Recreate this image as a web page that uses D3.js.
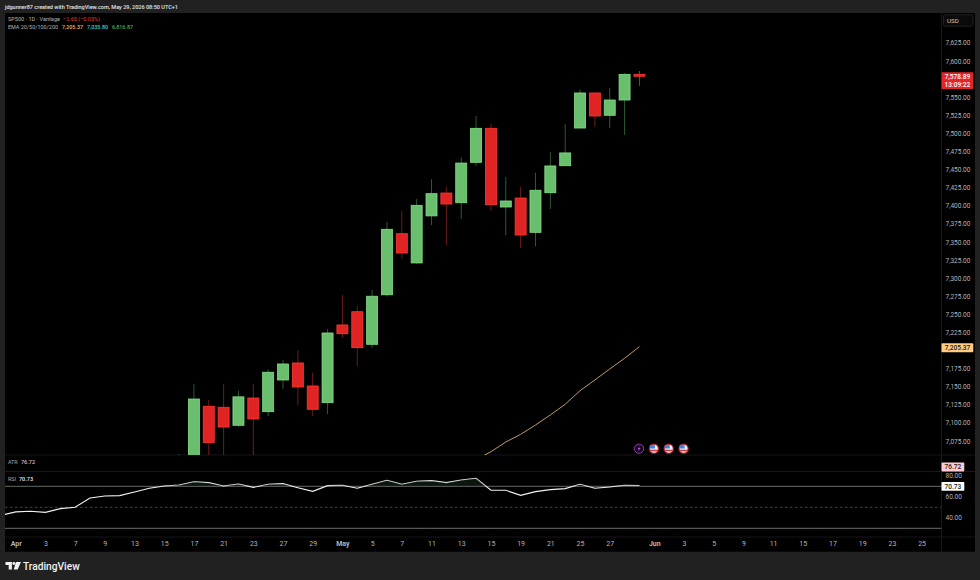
<!DOCTYPE html>
<html>
<head>
<meta charset="utf-8">
<title>SP500 daily</title>
<script src="https://cdn.jsdelivr.net/npm/d3@7/dist/d3.min.js"></script>
<style>
  html, body { margin: 0; padding: 0; background: #212121; }
  svg { display: block; }
  text { font-family: Roboto, "Open Sans", sans-serif; }
</style>
</head>
<body>
<svg id="chart" width="980" height="580"></svg>
<script>
// Session index of the first candle on the chart
const firstIndex = 11;
const opens  = [7000, 7035, 7123, 7121.6, 7096.7, 7134.4, 7115.5, 7159.3, 7182.8, 7151, 7128, 7235.3, 7253.6, 7208.6, 7277, 7361.4, 7321, 7386, 7417.6, 7404.2, 7460, 7507, 7398.3, 7410.7, 7363.3, 7418, 7455.3, 7507.4, 7555.8, 7525, 7546.1, 7581.54];
const highs  = [7057, 7153.7, 7131.6, 7153.7, 7144.5, 7153.7, 7174, 7187, 7200.7, 7169.4, 7229.7, 7276.7, 7261.5, 7283.6, 7377.6, 7392.3, 7409.3, 7436.6, 7426.3, 7467, 7524, 7513, 7439.7, 7426.3, 7445.7, 7474.3, 7512.5, 7561, 7556.8, 7562.7, 7583, 7586.2];
const lows   = [6990, 7021, 7049, 7046, 7095, 7046, 7109.5, 7147.3, 7124.7, 7109.5, 7112.3, 7217.7, 7178.6, 7203.5, 7274.4, 7327, 7320, 7373.4, 7345.8, 7381.7, 7455, 7393.2, 7359.6, 7341.6, 7344, 7395.5, 7455, 7507, 7508.8, 7507.4, 7497.8, 7565.5];
const closes = [7040, 7133, 7073, 7094.3, 7136, 7105.4, 7170, 7181.4, 7149.6, 7118.8, 7224.2, 7223.2, 7204, 7275, 7367.5, 7334.7, 7400.6, 7416.7, 7402.4, 7459, 7507, 7401.5, 7406.6, 7359.6, 7421.4, 7455, 7473, 7555.8, 7524, 7546.1, 7581.54, 7578.89];

// EMA 20, visible only near the end of the range
const emaStart = 30;
const emaValues = [7035, 7049.4, 7060.2, 7073.6, 7084.2, 7097.1, 7111, 7125.7, 7144.5, 7159.3, 7174.5, 7189.3, 7205.37];

// RSI, one value per session, starting one session before the first tick
const rsiStart = -1;
const rsiValues = [42.4, 45.6, 46.2, 45.2, 48.7, 50, 58.9, 60.8, 61.1, 64.6, 68.1, 70.3, 71.3, 74.4, 73.5, 70.3, 72.2, 69, 71.9, 72.5, 68.7, 65.2, 70.6, 71, 68.1, 71.9, 75.7, 71.9, 74.8, 75.4, 73.5, 76, 77.6, 66.2, 66.2, 61.4, 64.9, 66.8, 67.8, 71.9, 68.1, 69.4, 71, 70.73];

// 7,575 and 7,200 sit under the last-value tags and are left out
const priceTicks = [7625, 7600, 7550, 7525, 7500, 7475, 7450, 7425, 7400, 7375, 7350, 7325, 7300, 7275, 7250, 7225, 7175, 7150, 7125, 7100, 7075];
const rsiTicks = [80, 60, 40];
const rsiBands = [70, 50, 30];
const timeTickIndex = [0, 2, 4, 6, 8, 10, 12, 14, 16, 18, 20, 22, 24, 26, 28, 30, 32, 34, 36, 38, 40, 43, 45, 47, 49, 51, 53, 55, 57, 59, 61];
const timeTickLabels = ["Apr", "3", "7", "9", "13", "15", "17", "21", "23", "27", "29", "May", "5", "7", "11", "13", "15", "19", "21", "25", "27", "Jun", "3", "5", "9", "11", "15", "17", "19", "23", "25"];
const monthLabels = ["Apr", "May", "Jun"];

const eventIndex = [42, 43, 44, 45];
const eventKinds = ["bolt", "flag", "flag", "flag"];

const lastPrice = 7578.89;
const lastEma = 7205.37;
const lastAtr = 76.72;
const lastRsi = 70.73;

const paneLeft = 5, paneRight = 941.5, frameRight = 975, frameTop = 13, frameBottom = 551.7;
const mainBottom = 455, atrBottom = 471.5, rsiBottom = 537;

const x = d3.scaleLinear().domain([0, 61]).range([15.7, 921.6]);
const y = d3.scaleLinear().domain([7600, 7075]).range([61, 441]);
const yRsi = d3.scaleLinear().domain([70, 30]).range([486.3, 528.3]);

const svg = d3.select("#chart");
const defs = svg.append("defs");
defs.append("clipPath").attr("id", "mainClip").append("rect")
  .attr("x", paneLeft).attr("y", frameTop).attr("width", paneRight - paneLeft).attr("height", mainBottom - frameTop);
defs.append("clipPath").attr("id", "rsiClip").append("rect")
  .attr("x", paneLeft).attr("y", atrBottom).attr("width", paneRight - paneLeft).attr("height", rsiBottom - atrBottom);
defs.append("clipPath").attr("id", "overbought").append("rect")
  .attr("x", paneLeft).attr("y", atrBottom).attr("width", paneRight - paneLeft).attr("height", yRsi(70) - atrBottom);

// Page and chart frame
svg.append("rect").attr("width", 980).attr("height", 580).attr("fill", "#212121");
svg.append("rect").attr("x", paneLeft).attr("y", frameTop).attr("width", frameRight - paneLeft).attr("height", frameBottom - frameTop).attr("fill", "#000");

// Pane separators
const sepColor = "#17171d";
[mainBottom, atrBottom, rsiBottom].forEach(v => {
  svg.append("line").attr("x1", paneLeft).attr("x2", frameRight).attr("y1", v).attr("y2", v)
    .attr("stroke", sepColor).attr("stroke-width", 1.2);
});
svg.append("line").attr("x1", paneRight).attr("x2", paneRight).attr("y1", frameTop).attr("y2", frameBottom)
  .attr("stroke", sepColor).attr("stroke-width", 1.2);

// Candles
const bars = opens.map((o, k) => ({ i: firstIndex + k, o, h: highs[k], l: lows[k], c: closes[k] }));
const main = svg.append("g").attr("clip-path", "url(#mainClip)");
const bodyWidth = 11;
const lastBarIndex = firstIndex + opens.length - 1;
const candle = main.selectAll("g.candle").data(bars).join("g").attr("class", "candle");
candle.append("line")
  .attr("x1", d => x(d.i)).attr("x2", d => x(d.i))
  .attr("y1", d => y(d.h)).attr("y2", d => y(d.l))
  .attr("stroke", d => d.i === lastBarIndex ? "#a83232" : (d.c >= d.o ? "#2c5a33" : "#701b1b"))
  .attr("stroke-width", 1);
candle.append("rect")
  .attr("x", d => x(d.i) - bodyWidth / 2)
  .attr("width", bodyWidth)
  .attr("y", d => y(Math.max(d.o, d.c)))
  .attr("height", d => Math.abs(y(d.o) - y(d.c)))
  .attr("fill", d => d.c >= d.o ? "#6abf6e" : "#e02424")
  .attr("stroke", d => d.c >= d.o ? "#86df88" : "#ff3a30")
  .attr("stroke-width", 0.8);

// EMA line
main.append("path")
  .attr("d", d3.line().x((d, k) => x(emaStart + k)).y(d => y(d))(emaValues))
  .attr("fill", "none").attr("stroke", "#c29a62").attr("stroke-width", 1);

// Event markers along the bottom of the price pane
const eventY = 448.7;
const events = svg.append("g").selectAll("g").data(eventIndex.map((i, k) => ({ i, kind: eventKinds[k] }))).join("g")
  .attr("transform", d => `translate(${x(d.i) - 0.4},${eventY})`);
events.filter(d => d.kind === "bolt").call(g => {
  g.append("circle").attr("r", 4.6).attr("fill", "#14061a").attr("stroke", "#9c36b5").attr("stroke-width", 1);
  g.append("path").attr("d", "M1,-3 L-1.6,0.6 L0,0.6 L-1,3 L1.6,-0.6 L0,-0.6 Z").attr("fill", "#b455cc");
});
events.filter(d => d.kind === "flag").call(g => {
  g.append("circle").attr("r", 4.6).attr("fill", "#eef1f8").attr("stroke", "#a51e22").attr("stroke-width", 1.2);
  g.append("rect").attr("x", -4).attr("y", -3.6).attr("width", 5).attr("height", 3.4).attr("fill", "#3f7fe0");
  g.append("rect").attr("x", -4).attr("y", 1).attr("width", 8).attr("height", 1.6).attr("fill", "#d23a3a");
});

// RSI bands
const rsiPane = svg.append("g").attr("clip-path", "url(#rsiClip)");
rsiBands.forEach(b => {
  rsiPane.append("line").attr("x1", paneLeft).attr("x2", paneRight).attr("y1", yRsi(b)).attr("y2", yRsi(b))
    .attr("stroke", b === 50 ? "#444" : "#6c6c6c")
    .attr("stroke-width", 1)
    .attr("stroke-dasharray", b === 50 ? "2.5 2.5" : null);
});

// Overbought shading and the RSI line
const rsiPoints = rsiValues.map((v, k) => ({ i: rsiStart + k, v }));
svg.append("g").attr("clip-path", "url(#overbought)").append("path")
  .attr("d", d3.area().x(d => x(d.i)).y0(yRsi(70)).y1(d => yRsi(d.v))(rsiPoints))
  .attr("fill", "#1c3a20").attr("fill-opacity", 0.4);
rsiPane.append("path")
  .attr("d", d3.line().x(d => x(d.i)).y(d => yRsi(d.v))(rsiPoints))
  .attr("fill", "none").attr("stroke", "#f2f2f2").attr("stroke-width", 1.1);

// Axes
const tickColor = "#b2b5bc";
const axisFont = 6.5;
const priceAxis = svg.append("g").attr("transform", `translate(${paneRight},0)`)
  .call(d3.axisRight(y).tickValues(priceTicks).tickFormat(d3.format(",.2f")).tickSize(0).tickPadding(4));
priceAxis.select(".domain").remove();
priceAxis.selectAll("text").attr("fill", tickColor).attr("font-size", axisFont).attr("font-family", "Roboto");

const rsiAxis = svg.append("g").attr("transform", `translate(${paneRight},0)`)
  .call(d3.axisRight(yRsi).tickValues(rsiTicks).tickFormat(d3.format(".2f")).tickSize(0).tickPadding(4));
rsiAxis.select(".domain").remove();
rsiAxis.selectAll("text").attr("fill", tickColor).attr("font-size", axisFont).attr("font-family", "Roboto");

const timeAxis = svg.append("g").attr("transform", `translate(0,${rsiBottom})`)
  .call(d3.axisBottom(x).tickValues(timeTickIndex).tickFormat((d, k) => timeTickLabels[k]).tickSize(0).tickPadding(4.5));
timeAxis.select(".domain").remove();
timeAxis.selectAll("text").attr("fill", tickColor).attr("font-size", 7).attr("font-family", "Roboto")
  .attr("font-weight", function () { return monthLabels.includes(d3.select(this).text()) ? 700 : 400; });

// Last-value tags on the axis
function axisTag(cy, h, w, fill, lines, color, weight) {
  svg.append("rect").attr("x", paneRight).attr("y", cy - h / 2).attr("width", w).attr("height", h).attr("fill", fill).attr("rx", 0.8);
  lines.forEach((t, k) => {
    svg.append("text").attr("x", paneRight + w / 2).attr("y", cy + (k - (lines.length - 1) / 2) * 8)
      .attr("dy", "0.35em").attr("text-anchor", "middle").attr("fill", color)
      .attr("font-size", axisFont).attr("font-weight", weight).text(t);
  });
}
const fmtPrice = d3.format(",.2f");
axisTag(80.7, 16.8, 31.8, "#e32526", [fmtPrice(lastPrice), "13:09:22"], "#fff", 500);
axisTag(y(lastEma) + 1.2, 9, 31.8, "#ffcb80", [fmtPrice(lastEma)], "#1a1a1a", 500);
axisTag(467, 8.8, 22.8, "#ffc9d2", [lastAtr.toFixed(2)], "#1a1a1a", 500);
axisTag(486.3, 8.8, 22.8, "#ffffff", [lastRsi.toFixed(2)], "#1a1a1a", 500);

// Currency button
svg.append("rect").attr("x", 943.5).attr("y", 14.8).attr("width", 29.5).attr("height", 11.4).attr("rx", 1.5)
  .attr("fill", "#0a0a0a").attr("stroke", "#2a2a2a").attr("stroke-width", 0.8);
svg.append("text").attr("x", 947).attr("y", 20.5).attr("dy", "0.35em").attr("fill", "#c9ccd3").attr("font-size", 6.2).text("USD");

// Header and legends; each run is fitted to its own width so the row stays aligned
function label(px, py, text, color, size, weight, width) {
  const t = svg.append("text").attr("x", px).attr("y", py).attr("dy", "0.35em")
    .attr("fill", color).attr("font-size", size).attr("font-weight", weight || 400).text(text);
  if (width) t.attr("textLength", width).attr("lengthAdjust", "spacingAndGlyphs");
  return t;
}
label(5, 6.8, "jdgunner87 created with TradingView.com, May 29, 2026 08:50 UTC+1", "#e6e6e6", 6.2, 500, 173);
label(8, 19.3, "SP500 · 1D · Vantage", "#b4b6bc", 6, 400, 52);
label(63, 19.3, "−2.65 (−0.03%)", "#e23a3a", 6, 400, 37);
label(8, 26.7, "EMA 20/50/100/200", "#b4b6bc", 6, 400, 50);
label(62, 26.7, "7,205.37", "#f5b26b", 6, 500, 21);
label(87, 26.7, "7,035.80", "#2bd3d8", 6, 500, 21);
label(112, 26.7, "6,816.87", "#4caf50", 6, 500, 21);
label(8, 461.8, "ATR", "#a9acb3", 6, 400, 9.5);
label(21, 461.8, "76.72", "#e9b4bc", 6, 500, 14);
label(8, 479, "RSI", "#a9acb3", 6, 400, 8);
label(19, 479, "70.73", "#e8e8e8", 6, 500, 14);

// Footer logo and wordmark
const logo = svg.append("g").attr("transform", "translate(5.5,562)").attr("fill", "#f2f2f2");
logo.append("path").attr("d", "M0,0 H6.4 V7.6 H3.2 V3 H0 Z");
logo.append("circle").attr("cx", 8.3).attr("cy", 1.5).attr("r", 1.4);
logo.append("path").attr("d", "M10.4,0 H15.4 L12.2,7.6 H8.3 Z");
label(23, 566.2, "TradingView", "#f2f2f2", 10.2, 500);
</script>
</body>
</html>
